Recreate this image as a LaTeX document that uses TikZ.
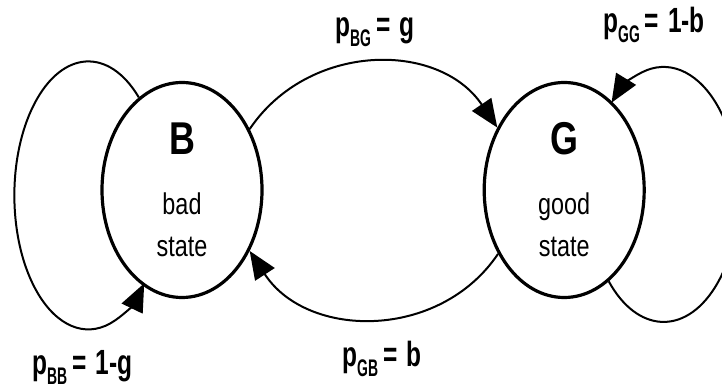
\documentclass[tikz,border=0pt]{standalone}
\usepackage{fontspec}
\setmainfont{Liberation Sans}
\newfontfamily\statefont[FakeStretch=0.78]{Liberation Sans}
\newfontfamily\lblfont[FakeStretch=0.7]{Liberation Sans}
\newfontfamily\subfont[FakeStretch=0.58]{Liberation Sans}
\usetikzlibrary{positioning,arrows.meta,shapes.geometric}

% transition probability label
\newcommand\prob[2]{p\raisebox{-10pt}{\subfont\bfseries\fontsize{24}{26}\selectfont #1}\hspace{5pt}=\hspace{9pt}#2}

\begin{document}
\begin{tikzpicture}[
    x=1pt, y=1pt,
    >={Triangle[length=28pt, width=23pt]},
    line/.style={->, line width=2pt},
    state/.style={
        ellipse, draw, line width=3.2pt,
        minimum width=160pt,
        minimum height=215pt,
        inner sep=0pt,
        align=center,
        font=\statefont\fontsize{30}{42}\selectfont
    },
    lbl/.style={
        inner sep=0pt, anchor=base west,
        font=\lblfont\bfseries\fontsize{35}{40}\selectfont
    }
]
\useasboundingbox (0,0) rectangle (722,390);
\clip (0,0) rectangle (722,390);

% States
\node[state] (B) at (182,200) {{\bfseries\fontsize{46}{46}\selectfont B}\\[18pt]bad\\state};
\node[state, right=219pt of B] (G) {{\bfseries\fontsize{46}{46}\selectfont G}\\[18pt]good\\state};

% Self loops
\draw[line] (B.115) arc[start angle=47, end angle=319, x radius=74, y radius=134];
\draw[line] (G.296) arc[start angle=223, end angle=494, x radius=75, y radius=127.5];

% Transitions
\draw[line] (B.42) .. controls +(56:105) and +(124:105) .. (G.137);
\draw[line] (G.224) .. controls +(236:105) and +(-57:105) .. (B.318);

% Labels
\node[lbl] (pBB) at (32,15)   {\prob{BB}{1-g}};
\node[lbl] (pBG) at (335,353) {\prob{BG}{g}};
\node[lbl] (pGG) at (603,357) {\prob{GG}{1-b}};
\node[lbl] (pGB) at (342,23)  {\prob{GB}{b}};

\end{tikzpicture}
\end{document}
